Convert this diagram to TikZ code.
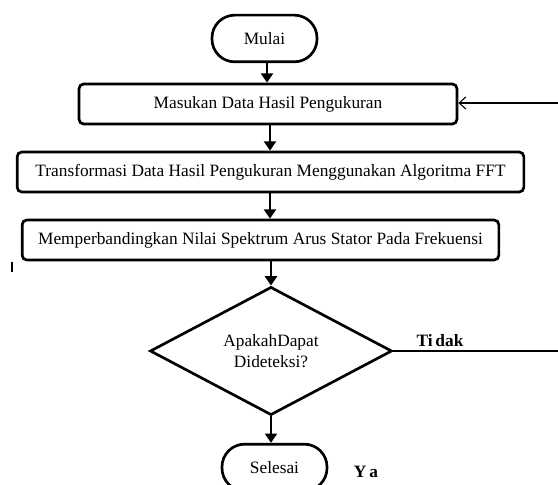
\documentclass[tikz,border=0pt]{standalone}
\usepackage{fontspec}
\setmainfont{Liberation Serif}
\usepackage{tikz}
\usetikzlibrary{arrows.meta,calc,positioning,shapes.geometric}

\begin{document}
\begin{tikzpicture}[x=0.75pt,y=-0.75pt,
    font=\fontsize{13}{15.5}\selectfont,
    terminal/.style={draw, line width=2pt, rounded corners=17pt,
      minimum width=78.75pt, minimum height=35pt},
    proses/.style={draw, line width=2pt, rounded corners=3.5pt,
      minimum height=30pt},
    keputusan/.style={draw, diamond, line width=2pt, inner sep=0pt,
      minimum width=181.5pt, minimum height=93pt, align=center},
    panah/.style={line width=2pt, -{Triangle[length=7pt,width=9pt]}}]
  \useasboundingbox (0,0) rectangle (558,485);

  % start
  \node[terminal] (mulai) at (264.5,38.5) {Mulai};

  % process steps
  \node[proses, minimum width=283.5pt] (masukan) at (268,104)
    {Masukan Data Hasil Pengukuran};
  \node[proses, minimum width=380pt] (fft) at (270.5,172)
    {Transformasi Data Hasil Pengukuran Menggunakan Algoritma FFT};
  \node[proses, minimum width=357.5pt] (banding) at (260.5,240)
    {Memperbandingkan Nilai Spektrum Arus Stator Pada Frekuensi};

  % decision
  \node[keputusan] (deteksi) at (271,351) {ApakahDapat\\Dideteksi?};

  % end
  \node[terminal] (selesai) at (274.5,467.5) {Selesai};

  % vertical flow
  \draw[panah] (mulai.south -| 267,0) -- (masukan.north -| 267,0);
  \draw[panah] (masukan.south -| 270,0) -- (fft.north -| 270,0);
  \draw[panah] (fft.south -| 270,0) -- (banding.north -| 270,0);
  \draw[panah] (banding.south -| deteksi.north) -- (deteksi.north);
  \draw[panah] (deteksi.south) -- (selesai.north -| deteksi.south);

  % loop back (Tidak)
  \coordinate (balikA) at (558,351);
  \coordinate (balikB) at (558,103);
  \draw[line width=0.8pt] (deteksi.east) -- (balikA);
  \draw[line width=0.8pt, -{Straight Barb[length=5pt,width=9pt]}]
    (balikB) -- (masukan.east |- balikB);

  % branch labels
  \node[font=\fontsize{13}{15.5}\bfseries] (tidak) at (440,341) {Ti\,dak};
  \node[font=\fontsize{13}{15.5}\bfseries] (ya) at (366,472) {Y\,a};

  % stray cursor mark
  \draw[line width=1pt] (12,262) -- (12,272);
\end{tikzpicture}
\end{document}
